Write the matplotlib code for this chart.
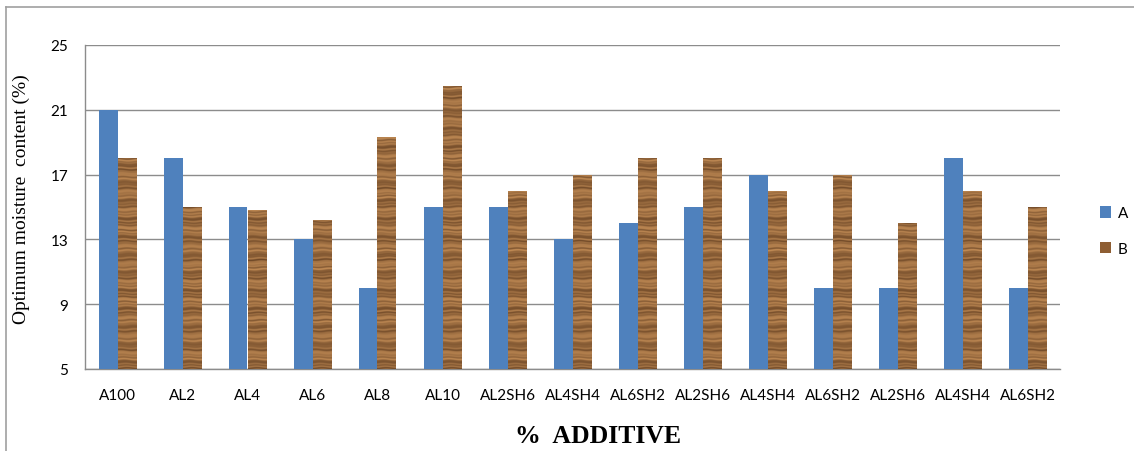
import numpy as np
import matplotlib
matplotlib.use("Agg")
import matplotlib.pyplot as plt
from matplotlib.patches import Patch
from matplotlib.lines import Line2D

categories = ["A100", "AL2", "AL4", "AL6", "AL8", "AL10", "AL2SH6", "AL4SH4",
              "AL6SH2", "AL2SH6", "AL4SH4", "AL6SH2", "AL2SH6", "AL4SH4", "AL6SH2"]
series_a = [21, 18, 15, 13, 10, 15, 15, 13, 14, 15, 17, 10, 10, 18, 10]
series_b = [18, 15, 14.8, 14.2, 19.3, 22.5, 16, 17, 18, 18, 16, 17, 14, 16, 15]
y_ticks = [5, 9, 13, 17, 21, 25]

BLUE = "#4F81BD"
BROWN = "#8E5E33"
GRID = "#8C8C8C"

fig = plt.figure(figsize=(11.34, 4.52), dpi=100)
ax = fig.add_axes([85 / 1134, 82 / 452, 975 / 1134, 324 / 452])

x = np.arange(len(categories))
w = 0.29
ax.bar(x - w / 2, series_a, width=w, color=BLUE, zorder=3)
bars_b = ax.bar(x + w / 2, series_b, width=w, color=BROWN, zorder=3)


def wood(y0, y1, ncols=12):
    """Horizontal wood-grain texture for a bar spanning y0..y1 (data units)."""
    ys = np.linspace(y1, y0, max(int((y1 - y0) * 16), 2))
    xs = np.linspace(0, 1, ncols)
    Y, X = np.meshgrid(ys, xs, indexing="ij")
    Yw = Y + 0.03 * np.sin(X * 5.0 + Y * 1.7)
    f = (0.60 + 0.16 * np.sin(2 * np.pi * Yw * 0.9)
         + 0.16 * np.sin(2 * np.pi * Yw * 2.7 + 1.0)
         + 0.14 * np.sin(2 * np.pi * Yw * 4.3 + 2.0)
         + 0.10 * np.sin(2 * np.pi * Yw * 6.1 + 0.5))
    f = np.clip(f, 0, 1) ** 0.8
    f = f[..., None]
    dark = np.array([0.32, 0.19, 0.09])
    light = np.array([0.75, 0.54, 0.33])
    return dark + (light - dark) * f


for bar in bars_b:
    bx, by = bar.get_x(), bar.get_y()
    bw, bh = bar.get_width(), bar.get_height()
    lo, hi = 5, by + bh
    im = ax.imshow(wood(lo, hi), extent=[bx, bx + bw, lo, hi], aspect="auto",
                   interpolation="bilinear", zorder=4)
    im.set_clip_path(bar)

ax.set_xlim(-0.5, len(categories) - 0.5)
ax.set_ylim(5, 25)
ax.set_yticks(y_ticks)
ax.set_xticks(x)
ax.set_xticklabels(categories)
ax.yaxis.grid(True, color=GRID, linewidth=1.0, zorder=0)
ax.set_axisbelow(True)
for side in ["top", "right"]:
    ax.spines[side].set_visible(False)
for side in ["left", "bottom"]:
    ax.spines[side].set_color(GRID)
    ax.spines[side].set_linewidth(1.0)
ax.tick_params(axis="both", length=0, labelsize=11, colors="black")
ax.tick_params(axis="y", pad=12)
ax.tick_params(axis="x", pad=14)
for lab in ax.get_xticklabels() + ax.get_yticklabels():
    lab.set_fontfamily("Lato")

fig.text(598 / 1134, 1 - 437 / 452, "%  ADDITIVE", ha="center", va="center",
         fontsize=18.5, fontweight="bold", family="Liberation Serif")
fig.text(21 / 1134, 1 - 199 / 452, "Optimum moisture  content (%)", ha="center",
         va="center", rotation=90, fontsize=14, family="Liberation Serif")

handles = [Patch(facecolor=BLUE, edgecolor="none"),
           Patch(facecolor=BROWN, edgecolor="none")]
fig.legend(handles, ["A", "B"], loc="center left",
           bbox_to_anchor=(1100 / 1134, 1 - 232 / 452), frameon=False,
           borderpad=0, borderaxespad=0,
           handlelength=0.75, handleheight=0.75, handletextpad=0.4,
           labelspacing=1.4, prop={"family": "Lato", "size": 11})

# outer chart frame (left and top edges)
fig.add_artist(Line2D([6 / 1134, 6 / 1134], [0, 1 - 7.5 / 452],
                      transform=fig.transFigure, color="#A0A0A0", linewidth=1.2))
fig.add_artist(Line2D([6 / 1134, 1], [1 - 7.5 / 452, 1 - 7.5 / 452],
                      transform=fig.transFigure, color="#A0A0A0", linewidth=1.2))

fig.savefig("out.png", dpi=100)
